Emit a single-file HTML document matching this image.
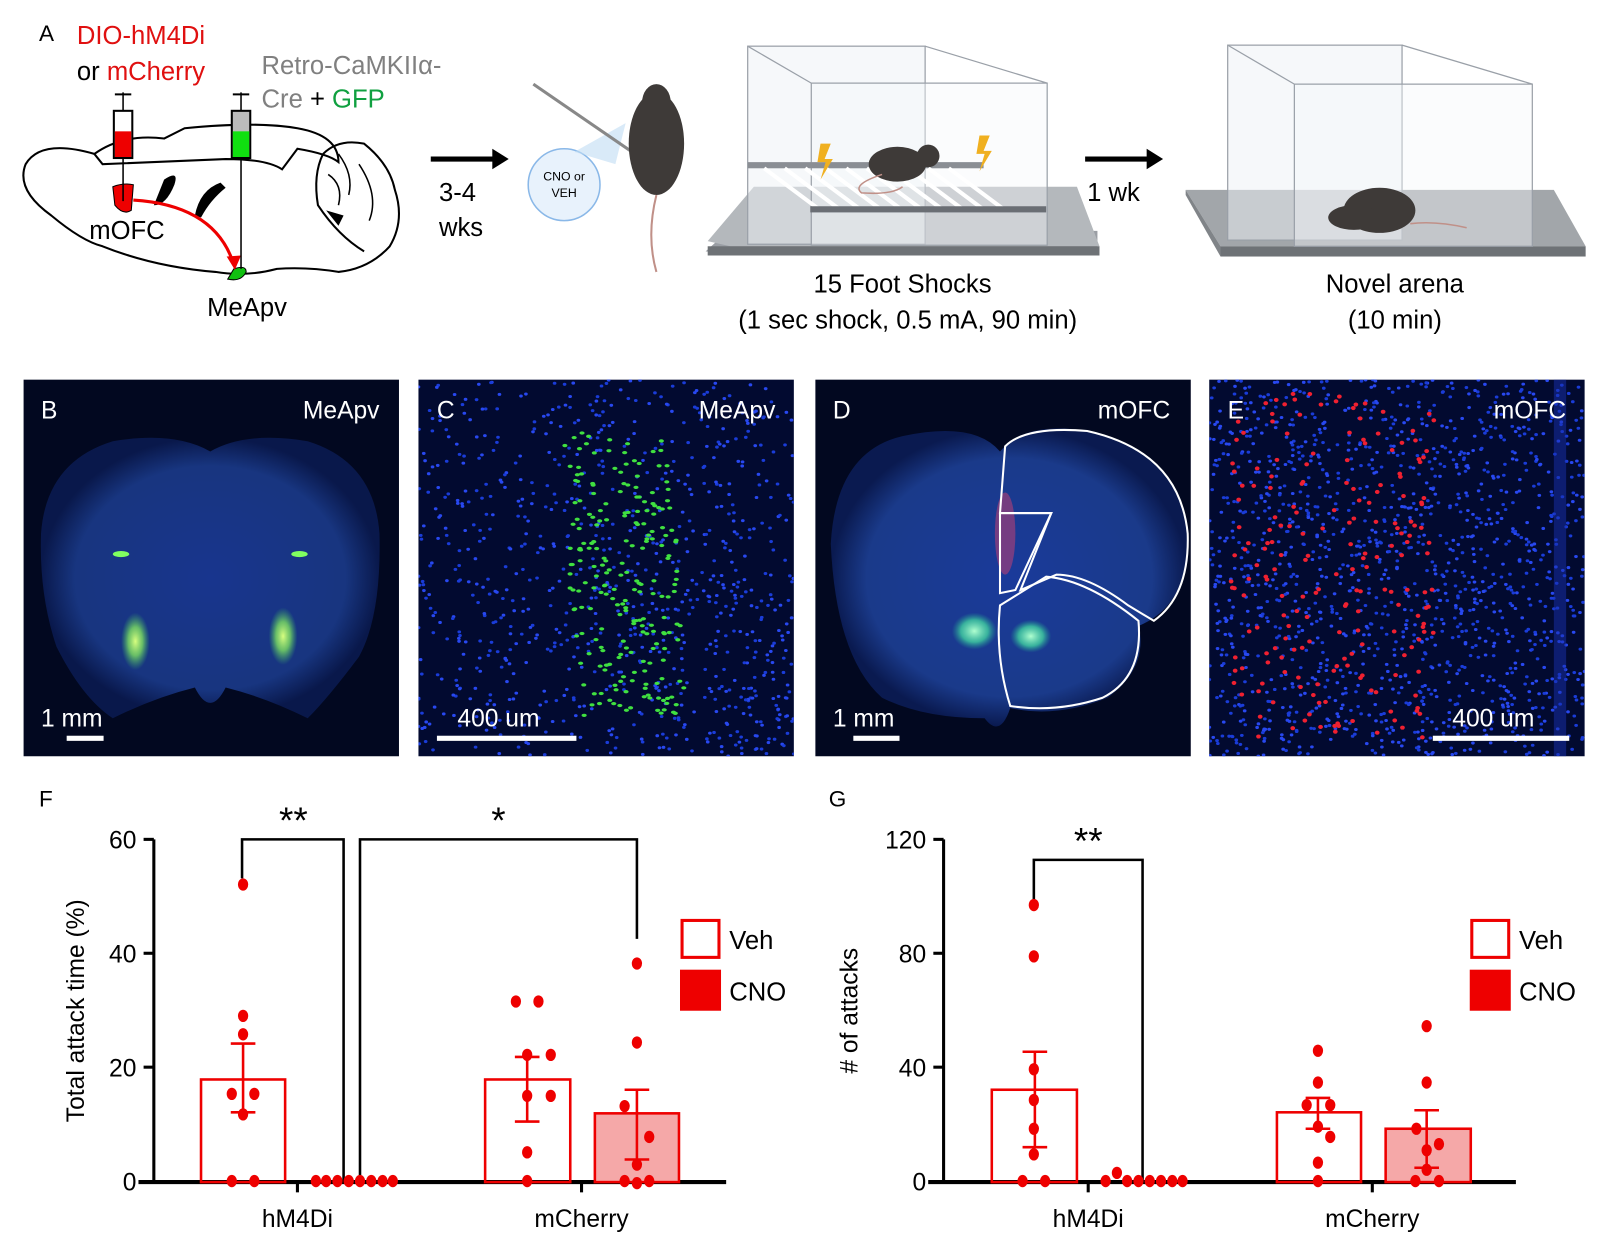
<!DOCTYPE html>
<html><head><meta charset="utf-8"><style>
html,body{margin:0;padding:0;background:#fff}
svg{display:block}
text{font-family:"Liberation Sans",Arial,sans-serif}
</style></head><body>
<svg id="s" width="1600" height="1257" viewBox="0 0 1560 1225" preserveAspectRatio="none" xmlns="http://www.w3.org/2000/svg">
<defs>
<radialGradient id="gB" cx="50%" cy="50%" r="50%"><stop offset="0" stop-color="#1a3a9a"/><stop offset="0.8" stop-color="#1a3a8a"/><stop offset="1" stop-color="#0a1a50"/></radialGradient>
<radialGradient id="gr" cx="50%" cy="50%" r="50%"><stop offset="0" stop-color="#d8ff80"/><stop offset="0.5" stop-color="#7de060" stop-opacity="0.8"/><stop offset="1" stop-color="#40c060" stop-opacity="0"/></radialGradient>
<radialGradient id="gc" cx="50%" cy="50%" r="50%"><stop offset="0" stop-color="#b0ffd0"/><stop offset="0.6" stop-color="#40d0a0" stop-opacity="0.8"/><stop offset="1" stop-color="#20a090" stop-opacity="0"/></radialGradient>
<clipPath id="cC"><rect x="408" y="370" width="366" height="367"/></clipPath>
<clipPath id="cE"><rect x="1179" y="370" width="366" height="367"/></clipPath>
</defs>

<!-- Panel A -->
<text x="38" y="40" font-size="22">A</text>
<text x="75" y="43" font-size="25" fill="#e01010">DIO-hM4Di</text>
<text x="75" y="78" font-size="25">or <tspan fill="#e01010">mCherry</tspan></text>
<text x="255" y="72" font-size="25" fill="#808080">Retro-CaMKIIα-</text>
<text x="255" y="105" font-size="25" fill="#808080">Cre <tspan fill="#000">+</tspan> <tspan fill="#10a040">GFP</tspan></text>
<!-- brain -->
<path d="M92,150 Q120,130 160,135 L180,125 Q250,118 290,125 Q330,132 330,158 Q320,150 290,145 L275,165 Q260,155 220,155 L100,160 Z" fill="none" stroke="#000" stroke-width="2"/>
<path d="M92,150 Q40,135 25,160 Q15,185 50,210 Q80,235 100,240 Q150,260 210,265 Q240,270 270,262 Q300,260 330,265 Q360,262 380,240 Q395,215 385,185 Q380,160 355,140 Q330,135 315,150" fill="none" stroke="#000" stroke-width="2"/>
<path d="M315,150 Q305,170 310,200 Q330,230 355,245" fill="none" stroke="#000" stroke-width="2"/>
<path d="M330,150 Q345,170 340,190 M320,170 Q335,180 330,200 M350,160 Q370,190 360,215" fill="none" stroke="#000" stroke-width="1.5"/>
<path d="M318,205 L335,210 L330,220 Z" fill="#000"/>
<path d="M160,175 Q175,165 170,180 Q162,200 150,200 Z" fill="#000"/>
<path d="M190,210 Q195,185 215,178 L220,183 Q205,195 196,212 Z" fill="#000"/>
<path d="M110,182 Q120,178 130,180 L128,205 Q120,210 112,200 Z" fill="#e00" stroke="#000" stroke-width="1"/>
<path d="M228,262 Q240,258 240,265 Q235,275 222,272 Z" fill="#10c010" stroke="#000"/>
<path d="M130,195 Q210,200 228,258" fill="none" stroke="#e00" stroke-width="3"/>
<path d="M221,250 L229,263 L235,249 Z" fill="#e00"/>
<!-- syringes -->
<line x1="120" y1="90" x2="120" y2="196" stroke="#000" stroke-width="1.5"/>
<line x1="112" y1="92" x2="128" y2="92" stroke="#000" stroke-width="2"/>
<rect x="111" y="108" width="18" height="46" fill="#fff" stroke="#000" stroke-width="2"/>
<rect x="112" y="128" width="16" height="25" fill="#e00"/>
<line x1="235" y1="90" x2="235" y2="262" stroke="#000" stroke-width="1.5"/>
<line x1="227" y1="92" x2="243" y2="92" stroke="#000" stroke-width="2"/>
<rect x="226" y="108" width="18" height="46" fill="#bbb" stroke="#000" stroke-width="2"/>
<rect x="227" y="128" width="16" height="25" fill="#10e010"/>
<text x="87" y="233" font-size="25">mOFC</text>
<text x="202" y="308" font-size="25">MeApv</text>
<!-- arrow 1 -->
<line x1="420" y1="155" x2="482" y2="155" stroke="#000" stroke-width="5"/>
<path d="M480,145 L496,155 L480,165 Z" fill="#000"/>
<text x="428" y="196" font-size="25">3-4</text>
<text x="428" y="230" font-size="25">wks</text>
<!-- injection mouse -->
<circle cx="550" cy="180" r="35" fill="#e8f2fc" stroke="#8ab8e8" stroke-width="1.5"/>
<path d="M560,148 L610,120 L600,160 Z" fill="#c0dcf4" opacity="0.6"/>
<text x="550" y="176" font-size="12" text-anchor="middle">CNO or</text>
<text x="550" y="192" font-size="12" text-anchor="middle">VEH</text>
<line x1="520" y1="82" x2="622" y2="152" stroke="#888" stroke-width="3"/>
<ellipse cx="640" cy="140" rx="27" ry="50" fill="#3e3a38"/>
<ellipse cx="640" cy="100" rx="14" ry="18" fill="#3e3a38"/>
<path d="M640,190 Q630,230 640,265" fill="none" stroke="#c09088" stroke-width="2"/>
<!-- shock box -->
<path d="M688,245 L710,225 L1070,225 L1070,248 L712,248 Z" fill="#9a9ea4"/>
<path d="M690,235 L735,182 L1050,182 L1072,240 L712,240 Z" fill="#b4b8bc"/>
<rect x="690" y="240" width="382" height="9" fill="#6e7276"/>
<g fill="none" stroke="#9aa0a8" stroke-width="1.2">
<rect x="729" y="45" width="173" height="193" fill="#eef2f6" fill-opacity="0.5"/>
<rect x="791" y="81" width="230" height="158" fill="#f4f7fa" fill-opacity="0.4"/>
<line x1="729" y1="45" x2="791" y2="81"/><line x1="902" y1="45" x2="1021" y2="81"/>
</g>
<rect x="729" y="158" width="230" height="6" fill="#8a8e94"/>
<g stroke="#fff" stroke-width="4">
<line x1="745" y1="164" x2="800" y2="205"/><line x1="765" y1="164" x2="820" y2="205"/><line x1="785" y1="164" x2="840" y2="205"/><line x1="805" y1="164" x2="860" y2="205"/><line x1="825" y1="164" x2="880" y2="205"/><line x1="845" y1="164" x2="900" y2="205"/><line x1="865" y1="164" x2="920" y2="205"/><line x1="885" y1="164" x2="940" y2="205"/><line x1="905" y1="164" x2="960" y2="205"/><line x1="925" y1="164" x2="980" y2="205"/>
</g>
<rect x="790" y="201" width="230" height="6" fill="#6a6e74"/>
<path d="M800,140 L810,140 L804,155 L812,155 L800,175 L805,158 L797,158 Z" fill="#f0b020"/>
<path d="M955,132 L965,132 L959,147 L967,147 L955,167 L960,150 L952,150 Z" fill="#f0b020"/>
<ellipse cx="875" cy="160" rx="28" ry="17" fill="#3e3a38"/><circle cx="905" cy="152" r="11" fill="#3e3a38"/>
<path d="M860,170 Q830,180 840,188 Q870,190 880,182" fill="none" stroke="#c09088" stroke-width="1.5"/>
<text x="880" y="285" font-size="25" text-anchor="middle">15 Foot Shocks</text>
<text x="885" y="320" font-size="25" text-anchor="middle">(1 sec shock, 0.5 mA, 90 min)</text>
<line x1="1058" y1="155" x2="1120" y2="155" stroke="#000" stroke-width="5"/>
<path d="M1118,145 L1134,155 L1118,165 Z" fill="#000"/>
<text x="1060" y="196" font-size="25">1 wk</text>
<!-- novel arena -->
<path d="M1156,185 L1202,185 L1515,185 L1546,240 L1190,240 Z" fill="#a2a6aa"/>
<rect x="1190" y="240" width="356" height="10" fill="#6e7276"/>
<path d="M1156,185 L1190,240 L1190,250 L1156,190 Z" fill="#808488"/>
<g fill="none" stroke="#9aa0a8" stroke-width="1.2">
<rect x="1197" y="44" width="170" height="190" fill="#eef2f6" fill-opacity="0.5"/>
<rect x="1262" y="82" width="232" height="158" fill="#f4f7fa" fill-opacity="0.4"/>
<line x1="1197" y1="44" x2="1262" y2="82"/><line x1="1367" y1="44" x2="1494" y2="82"/>
</g>
<ellipse cx="1345" cy="205" rx="35" ry="22" fill="#3e3a38"/><ellipse cx="1320" cy="212" rx="25" ry="12" fill="#3e3a38"/>
<path d="M1375,218 Q1400,215 1430,222" fill="none" stroke="#c09088" stroke-width="1.5"/>
<text x="1360" y="285" font-size="25" text-anchor="middle">Novel arena</text>
<text x="1360" y="320" font-size="25" text-anchor="middle">(10 min)</text>

<!-- Panel B -->
<rect x="23" y="370" width="366" height="367" fill="#020820"/>
<path d="M40,520 Q45,450 110,430 Q170,420 205,440 Q240,420 300,430 Q365,450 370,520 Q372,600 350,640 Q320,680 300,700 Q260,680 220,670 Q205,700 190,670 Q150,680 110,700 Q80,680 55,630 Q38,580 40,520 Z" fill="url(#gB)" opacity="0.9"/>
<ellipse cx="132" cy="625" rx="14" ry="28" fill="url(#gr)"/>
<ellipse cx="276" cy="620" rx="14" ry="28" fill="url(#gr)"/>
<ellipse cx="118" cy="540" rx="8" ry="3" fill="#80ff60"/><ellipse cx="292" cy="540" rx="8" ry="3" fill="#80ff60"/>
<text x="40" y="408" font-size="24" fill="#fff">B</text>
<text x="370" y="408" font-size="24" fill="#fff" text-anchor="end">MeApv</text>
<text x="40" y="708" font-size="24" fill="#fff">1 mm</text>
<rect x="65" y="717" width="36" height="5" fill="#fff"/>

<!-- Panel C -->
<rect x="408" y="370" width="366" height="367" fill="#020a30"/>
<g id="dC" clip-path="url(#cC)"></g>
<text x="426" y="408" font-size="24" fill="#fff">C</text>
<text x="756" y="408" font-size="24" fill="#fff" text-anchor="end">MeApv</text>
<text x="446" y="708" font-size="24" fill="#fff">400 um</text>
<rect x="426" y="717" width="136" height="5" fill="#fff"/>

<!-- Panel D -->
<rect x="795" y="370" width="366" height="367" fill="#020820"/>
<path d="M810,530 Q815,440 880,425 Q950,410 975,440 Q1000,410 1060,420 Q1150,440 1158,520 Q1160,590 1110,610 Q1120,650 1080,680 Q1030,700 985,690 Q975,720 960,700 Q900,700 860,680 Q815,640 810,530 Z" fill="url(#gB)"/>
<ellipse cx="950" cy="615" rx="22" ry="18" fill="url(#gc)"/><ellipse cx="1005" cy="620" rx="20" ry="16" fill="url(#gc)"/>
<ellipse cx="980" cy="520" rx="10" ry="40" fill="#d04070" opacity="0.5"/>
<g fill="none" stroke="#fff" stroke-width="2">
<path d="M980,435 Q1000,415 1060,420 Q1150,440 1158,520 Q1160,580 1125,605 L1100,590 Q1060,560 1030,560 L995,575 L1025,500 L975,500 Z"/>
<path d="M975,500 L1025,500 L990,575 L975,578 Z"/>
<path d="M975,590 L1020,562 Q1060,565 1110,605 Q1115,660 1075,680 Q1030,695 985,688 Q970,640 975,590 Z"/>
</g>
<text x="812" y="408" font-size="24" fill="#fff">D</text>
<text x="1141" y="408" font-size="24" fill="#fff" text-anchor="end">mOFC</text>
<text x="812" y="708" font-size="24" fill="#fff">1 mm</text>
<rect x="832" y="717" width="45" height="5" fill="#fff"/>

<!-- Panel E -->
<rect x="1179" y="370" width="366" height="367" fill="#020a30"/>
<g id="dE" clip-path="url(#cE)"></g>
<rect x="1515" y="370" width="12" height="367" fill="#1830b0" opacity="0.5"/>
<text x="1197" y="408" font-size="24" fill="#fff">E</text>
<text x="1527" y="408" font-size="24" fill="#fff" text-anchor="end">mOFC</text>
<text x="1416" y="708" font-size="24" fill="#fff">400 um</text>
<rect x="1397" y="717" width="133" height="5" fill="#fff"/>

<!-- Panel F -->
<text x="38" y="786" font-size="22">F</text>
<g stroke="#000" stroke-width="3">
<line x1="150" y1="818" x2="150" y2="1152"/>
<line x1="135" y1="1152" x2="708" y2="1152" stroke-width="4"/>
<line x1="140" y1="818" x2="150" y2="818"/><line x1="140" y1="929" x2="150" y2="929"/><line x1="140" y1="1040" x2="150" y2="1040"/>
<line x1="290" y1="1152" x2="290" y2="1162"/><line x1="567" y1="1152" x2="567" y2="1162"/>
</g>
<g font-size="24" text-anchor="end"><text x="133" y="827">60</text><text x="133" y="938">40</text><text x="133" y="1049">20</text><text x="133" y="1160">0</text></g>
<text transform="translate(82,985) rotate(-90)" font-size="24" text-anchor="middle">Total attack time (%)</text>
<text x="290" y="1196" font-size="24" text-anchor="middle">hM4Di</text>
<text x="567" y="1196" font-size="24" text-anchor="middle">mCherry</text>
<g fill="none" stroke="#000" stroke-width="2.5">
<path d="M236,856 V818 H335 V1150"/><path d="M351,1150 V818 H621 V915"/>
</g>
<text x="286" y="812" font-size="36" text-anchor="middle">**</text>
<text x="486" y="812" font-size="36" text-anchor="middle">*</text>
<g fill="none" stroke="#e00" stroke-width="2.5">
<rect x="196" y="1052" width="82" height="100"/>
<rect x="473" y="1052" width="83" height="100"/>
<rect x="580" y="1085" width="82" height="67" fill="#f5a8a8"/>
<path d="M237,1084 V1017 M225,1017 H249 M225,1084 H249"/>
<path d="M514,1093 V1030 M502,1030 H526 M502,1093 H526"/>
<path d="M621,1130 V1062 M609,1062 H633 M609,1130 H633"/>
</g>
<g fill="#e00">
<ellipse cx="237" cy="862" rx="5" ry="6"/><ellipse cx="237" cy="990" rx="5" ry="6"/><ellipse cx="237" cy="1008" rx="5" ry="6"/><ellipse cx="226" cy="1066" rx="5" ry="6"/><ellipse cx="248" cy="1066" rx="5" ry="6"/><ellipse cx="237" cy="1086" rx="5" ry="6"/><ellipse cx="226" cy="1151" rx="5" ry="6"/><ellipse cx="248" cy="1151" rx="5" ry="6"/>
<ellipse cx="308" cy="1151" rx="5" ry="6"/><ellipse cx="318" cy="1151" rx="5" ry="6"/><ellipse cx="329" cy="1151" rx="5" ry="6"/><ellipse cx="340" cy="1151" rx="5" ry="6"/><ellipse cx="351" cy="1151" rx="5" ry="6"/><ellipse cx="362" cy="1151" rx="5" ry="6"/><ellipse cx="373" cy="1151" rx="5" ry="6"/><ellipse cx="383" cy="1151" rx="5" ry="6"/>
<ellipse cx="503" cy="976" rx="5" ry="6"/><ellipse cx="525" cy="976" rx="5" ry="6"/><ellipse cx="514" cy="1028" rx="5" ry="6"/><ellipse cx="537" cy="1028" rx="5" ry="6"/><ellipse cx="514" cy="1068" rx="5" ry="6"/><ellipse cx="537" cy="1068" rx="5" ry="6"/><ellipse cx="514" cy="1123" rx="5" ry="6"/><ellipse cx="514" cy="1151" rx="5" ry="6"/>
<ellipse cx="621" cy="939" rx="5" ry="6"/><ellipse cx="621" cy="1016" rx="5" ry="6"/><ellipse cx="609" cy="1078" rx="5" ry="6"/><ellipse cx="633" cy="1108" rx="5" ry="6"/><ellipse cx="621" cy="1135" rx="5" ry="6"/><ellipse cx="621" cy="1153" rx="5" ry="6"/><ellipse cx="609" cy="1151" rx="5" ry="6"/><ellipse cx="633" cy="1151" rx="5" ry="6"/>
</g>
<rect x="665" y="897" width="36" height="36" fill="#fff" stroke="#e00" stroke-width="3"/>
<rect x="663" y="945" width="40" height="40" fill="#e00"/>
<text x="711" y="925" font-size="25">Veh</text><text x="711" y="975" font-size="25">CNO</text>

<!-- Panel G -->
<text x="808" y="786" font-size="22">G</text>
<g stroke="#000" stroke-width="3">
<line x1="920" y1="818" x2="920" y2="1152"/>
<line x1="905" y1="1152" x2="1478" y2="1152" stroke-width="4"/>
<line x1="910" y1="818" x2="920" y2="818"/><line x1="910" y1="929" x2="920" y2="929"/><line x1="910" y1="1040" x2="920" y2="1040"/>
<line x1="1061" y1="1152" x2="1061" y2="1162"/><line x1="1338" y1="1152" x2="1338" y2="1162"/>
</g>
<g font-size="24" text-anchor="end"><text x="903" y="827">120</text><text x="903" y="938">80</text><text x="903" y="1049">40</text><text x="903" y="1160">0</text></g>
<text transform="translate(836,985) rotate(-90)" font-size="24" text-anchor="middle"># of attacks</text>
<text x="1061" y="1196" font-size="24" text-anchor="middle">hM4Di</text>
<text x="1338" y="1196" font-size="24" text-anchor="middle">mCherry</text>
<path d="M1008,877 V838 H1114 V1150" fill="none" stroke="#000" stroke-width="2.5"/>
<text x="1061" y="832" font-size="36" text-anchor="middle">**</text>
<g fill="none" stroke="#e00" stroke-width="2.5">
<rect x="967" y="1062" width="83" height="90"/>
<rect x="1245" y="1084" width="82" height="68"/>
<rect x="1351" y="1100" width="83" height="52" fill="#f5a8a8"/>
<path d="M1009,1118 V1025 M997,1025 H1021 M997,1118 H1021"/>
<path d="M1285,1100 V1070 M1273,1070 H1297 M1273,1100 H1297"/>
<path d="M1391,1138 V1082 M1379,1082 H1403 M1379,1138 H1403"/>
</g>
<g fill="#e00">
<ellipse cx="1008" cy="882" rx="5" ry="6"/><ellipse cx="1008" cy="932" rx="5" ry="6"/><ellipse cx="1008" cy="1042" rx="5" ry="6"/><ellipse cx="1008" cy="1072" rx="5" ry="6"/><ellipse cx="1008" cy="1125" rx="5" ry="6"/><ellipse cx="1008" cy="1100" rx="5" ry="6"/><ellipse cx="997" cy="1151" rx="5" ry="6"/><ellipse cx="1019" cy="1151" rx="5" ry="6"/>
<ellipse cx="1078" cy="1151" rx="5" ry="6"/><ellipse cx="1089" cy="1143" rx="5" ry="6"/><ellipse cx="1099" cy="1151" rx="5" ry="6"/><ellipse cx="1110" cy="1151" rx="5" ry="6"/><ellipse cx="1121" cy="1151" rx="5" ry="6"/><ellipse cx="1132" cy="1151" rx="5" ry="6"/><ellipse cx="1143" cy="1151" rx="5" ry="6"/><ellipse cx="1153" cy="1151" rx="5" ry="6"/>
<ellipse cx="1285" cy="1024" rx="5" ry="6"/><ellipse cx="1285" cy="1055" rx="5" ry="6"/><ellipse cx="1274" cy="1077" rx="5" ry="6"/><ellipse cx="1297" cy="1077" rx="5" ry="6"/><ellipse cx="1285" cy="1098" rx="5" ry="6"/><ellipse cx="1297" cy="1108" rx="5" ry="6"/><ellipse cx="1285" cy="1133" rx="5" ry="6"/><ellipse cx="1285" cy="1151" rx="5" ry="6"/>
<ellipse cx="1391" cy="1000" rx="5" ry="6"/><ellipse cx="1391" cy="1055" rx="5" ry="6"/><ellipse cx="1381" cy="1100" rx="5" ry="6"/><ellipse cx="1403" cy="1115" rx="5" ry="6"/><ellipse cx="1391" cy="1140" rx="5" ry="6"/><ellipse cx="1380" cy="1151" rx="5" ry="6"/><ellipse cx="1403" cy="1151" rx="5" ry="6"/><ellipse cx="1391" cy="1121" rx="5" ry="6"/>
</g>
<rect x="1435" y="897" width="36" height="36" fill="#fff" stroke="#e00" stroke-width="3"/>
<rect x="1433" y="945" width="40" height="40" fill="#e00"/>
<text x="1481" y="925" font-size="25">Veh</text><text x="1481" y="975" font-size="25">CNO</text>
</svg>
<script>
(function(){
var ns="http://www.w3.org/2000/svg";var seed=7;function r(){seed=(seed*16807)%2147483647;return seed/2147483647;}
function dot(g,x,y,rx,ry,c){var e=document.createElementNS(ns,"ellipse");e.setAttribute("cx",x);e.setAttribute("cy",y);e.setAttribute("rx",rx);e.setAttribute("ry",ry);e.setAttribute("fill",c);g.appendChild(e);}
var C=document.getElementById("dC");
for(var i=0;i<1400;i++){var x=408+r()*366,y=370+r()*367;var dens=(x>690&&y>560)?1:0.55;if(r()<dens)dot(C,x,y,1.8,1.5,r()<0.5?"#1a3cd8":"#2848f0");}
for(var i=0;i<220;i++){var y=420+r()*280;var cx=600+(y-420)*0.05;var x=cx+(r()-0.5)*110;dot(C,x,y,2.5,1.6,"#40e040");}
var E=document.getElementById("dE");
for(var i=0;i<1400;i++){dot(E,1179+r()*366,370+r()*367,1.8,1.5,r()<0.5?"#1a3cd8":"#2848f0");}
for(var i=0;i<200;i++){var x=1300+(r()-0.5)*200,y=380+r()*340;dot(E,x,y,2.3,2,"#f02030");}
})();
</script>
</body></html>
